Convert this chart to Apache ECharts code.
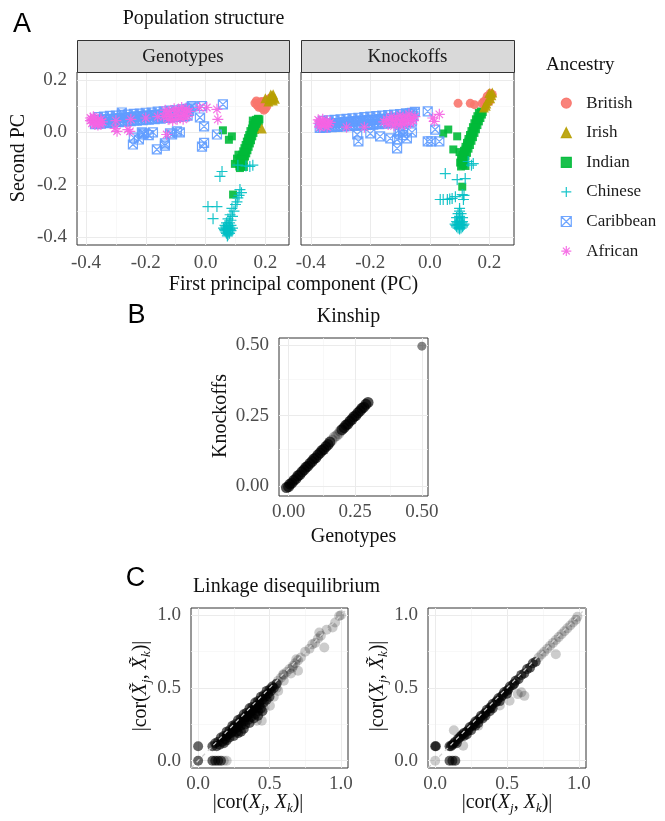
<!DOCTYPE html>
<html><head><meta charset="utf-8">
<script src="https://cdn.jsdelivr.net/npm/echarts@6/dist/echarts.min.js"></script>
<style>html,body{margin:0;padding:0;background:#fff}#c{width:665px;height:821px}</style>
</head><body><div id="c"></div>
<script>
// ---------------- DATA ----------------
const ancestryNames = ['British','Irish','Indian','Chinese','Caribbean','African'];

// Panel A – Genotypes facet (PC1, PC2)
const genoBritish = [[0.165,0.112],[0.172,0.104],[0.178,0.096],[0.185,0.1],[0.19,0.093],[0.182,0.115],[0.195,0.108],[0.2,0.12],[0.205,0.112],[0.21,0.125],[0.215,0.13],[0.205,0.1],[0.195,0.085],[0.188,0.118],[0.17,0.12],[0.2,0.09]];
const genoIrish = [[0.215,0.128],[0.222,0.14],[0.228,0.134],[0.232,0.128],[0.225,0.122],[0.218,0.145],[0.21,0.118],[0.2,0.13],[0.226,0.146],[0.188,0.015]];
const genoIndian = [[0.175,0.052],[0.168,0.048],[0.178,0.042],[0.163,0.038],[0.172,0.032],[0.158,0.028],[0.168,0.022],[0.155,0.015],[0.165,0.01],[0.15,0.005],[0.16,-0.002],[0.146,-0.01],[0.156,-0.015],[0.142,-0.022],[0.152,-0.03],[0.138,-0.035],[0.148,-0.042],[0.134,-0.048],[0.144,-0.055],[0.13,-0.06],[0.14,-0.068],[0.126,-0.072],[0.136,-0.08],[0.122,-0.085],[0.132,-0.092],[0.118,-0.097],[0.128,-0.104],[0.114,-0.108],[0.124,-0.115],[0.112,-0.12],[0.12,-0.128],[0.115,-0.136],[0.128,-0.132],[0.105,-0.1],[0.11,-0.085],[0.158,0.045],
  [0.18,0.05],[0.173,0.045],[0.168,0.035],[0.162,0.02],[0.158,0.008],[0.152,-0.008],[0.148,-0.02],[0.143,-0.035],[0.139,-0.05],[0.135,-0.063],[0.13,-0.078],[0.126,-0.09],[0.121,-0.105],[0.117,-0.118],[0.113,-0.13],
  [0.058,0.008],[0.088,-0.015],[0.078,-0.028],[0.092,-0.237],[0.098,-0.12]];
const genoChinese = [[0.148,-0.13],[0.135,-0.128],[0.158,-0.125],[0.108,-0.125],[0.055,-0.149],[0.048,-0.168],[0.115,-0.218],[0.12,-0.23],[0.112,-0.24],[0.108,-0.25],[0.105,-0.265],[0.1,-0.275],[0.008,-0.283],[0.038,-0.283],[0.025,-0.329],[0.088,-0.29],[0.095,-0.3],[0.082,-0.314],[0.09,-0.32],[0.075,-0.33],[0.085,-0.335],[0.07,-0.345],[0.08,-0.345],[0.065,-0.355],[0.075,-0.355],[0.085,-0.355],[0.06,-0.365],[0.07,-0.365],[0.08,-0.365],[0.09,-0.365],[0.065,-0.375],[0.075,-0.375],[0.085,-0.375],[0.07,-0.385],[0.08,-0.385],[0.073,-0.395],
  [0.063,-0.37],[0.072,-0.37],[0.082,-0.37],[0.068,-0.36],[0.078,-0.36],[0.075,-0.39],[0.068,-0.38],[0.078,-0.38]];
const genoCaribbean = [[-0.37,0.032],[-0.36,0.034],[-0.35,0.033],[-0.34,0.036],[-0.33,0.035],[-0.32,0.038],[-0.31,0.037],[-0.3,0.04],[-0.29,0.039],[-0.28,0.042],[-0.27,0.041],[-0.26,0.044],[-0.25,0.043],[-0.24,0.046],[-0.23,0.045],[-0.22,0.048],[-0.21,0.047],[-0.2,0.05],[-0.19,0.049],[-0.18,0.052],[-0.17,0.051],[-0.16,0.054],[-0.15,0.053],[-0.14,0.056],[-0.13,0.055],[-0.12,0.058],[-0.11,0.057],[-0.1,0.06],[-0.09,0.059],[-0.08,0.062],[-0.07,0.061],[-0.06,0.064],
  [-0.365,0.046],[-0.355,0.047],[-0.345,0.049],[-0.335,0.048],[-0.325,0.051],[-0.315,0.052],[-0.305,0.051],[-0.295,0.054],[-0.285,0.055],[-0.275,0.054],[-0.265,0.057],[-0.255,0.058],[-0.245,0.057],[-0.235,0.06],[-0.225,0.061],[-0.215,0.06],[-0.205,0.063],[-0.195,0.064],[-0.185,0.063],[-0.175,0.066],[-0.165,0.067],[-0.155,0.066],[-0.145,0.069],[-0.135,0.07],[-0.125,0.069],[-0.115,0.072],[-0.105,0.073],[-0.095,0.072],[-0.085,0.075],[-0.075,0.076],[-0.065,0.078],[-0.055,0.082],
  [-0.36,0.058],[-0.34,0.06],[-0.32,0.063],[-0.3,0.064],[-0.28,0.067],[-0.26,0.068],[-0.24,0.071],[-0.22,0.072],[-0.2,0.075],[-0.18,0.076],[-0.16,0.079],[-0.14,0.08],[-0.12,0.083],[-0.1,0.084],[-0.08,0.088],[-0.06,0.09],[-0.05,0.095],
  [0.058,0.107],[-0.012,0.1],[-0.046,0.1],[-0.019,0.057],[-0.005,0.023],[0.038,-0.008],[-0.012,-0.054],[-0.005,-0.04],[-0.086,0.0],[-0.112,-0.008],[-0.136,-0.05],[-0.163,-0.065],[-0.21,-0.008],[-0.176,0.0],[-0.243,-0.046],[-0.213,0.0],[-0.28,0.076],[-0.206,-0.004],[-0.223,-0.027],[-0.119,-0.004],[-0.096,0.004],[-0.136,-0.042],[-0.24,-0.02],[-0.19,-0.01]];
const genoAfrican = [[-0.385,0.045],[-0.38,0.05],[-0.375,0.038],[-0.37,0.055],[-0.365,0.042],[-0.36,0.048],[-0.355,0.036],[-0.35,0.05],[-0.345,0.04],[-0.38,0.035],[-0.37,0.03],[-0.385,0.055],[-0.375,0.06],[-0.36,0.028],[-0.35,0.03],
  [-0.14,0.06],[-0.13,0.07],[-0.125,0.05],[-0.12,0.08],[-0.115,0.06],[-0.11,0.045],[-0.1,0.07],[-0.09,0.085],[-0.085,0.06],[-0.08,0.095],[-0.075,0.05],[-0.07,0.075],[-0.065,0.09],[-0.06,0.06],[-0.055,0.08],[-0.095,0.05],[-0.135,0.085],[-0.105,0.09],[-0.075,0.065],
  [0.004,0.095],[0.038,0.088],[0.041,0.05],[-0.26,0.011],[-0.303,0.015],[-0.13,-0.008],[-0.296,0.004],[-0.253,0.004],[-0.02,0.095],[-0.2,0.055],[-0.25,0.05],[-0.3,0.045],[-0.16,0.06]];

// Panel A – Knockoffs facet
const knockBritish = [[0.095,0.111],[0.136,0.111],[0.15,0.106],[0.176,0.111],[0.182,0.118],[0.188,0.108],[0.193,0.138],[0.198,0.128],[0.203,0.149],[0.205,0.14],[0.19,0.125],[0.2,0.118],[0.21,0.145],[0.185,0.1],[0.195,0.115]];
const knockIrish = [[0.2,0.15],[0.207,0.142],[0.203,0.13],[0.195,0.122],[0.19,0.11],[0.182,0.095],[0.21,0.152],[0.188,0.102]];
const knockIndian = [[0.172,0.08],[0.165,0.075],[0.175,0.068],[0.16,0.062],[0.17,0.055],[0.155,0.05],[0.165,0.042],[0.15,0.035],[0.16,0.028],[0.145,0.02],[0.155,0.012],[0.14,0.005],[0.15,-0.002],[0.135,-0.01],[0.145,-0.018],[0.13,-0.025],[0.14,-0.032],[0.125,-0.04],[0.135,-0.048],[0.12,-0.055],[0.13,-0.062],[0.115,-0.07],[0.125,-0.078],[0.11,-0.085],[0.12,-0.092],[0.105,-0.1],[0.115,-0.108],[0.102,-0.115],[0.112,-0.122],[0.105,-0.13],[0.12,-0.128],
  [0.178,0.078],[0.17,0.07],[0.165,0.058],[0.16,0.045],[0.155,0.032],[0.15,0.018],[0.145,0.005],[0.14,-0.008],[0.135,-0.022],[0.13,-0.035],[0.125,-0.05],[0.12,-0.065],[0.115,-0.08],[0.11,-0.095],[0.107,-0.11],[0.11,-0.125],
  [0.045,-0.004],[0.062,0.011],[0.092,-0.015],[0.079,-0.065],[0.109,-0.207],[0.1,-0.075]];
const knockChinese = [[0.129,-0.111],[0.146,-0.119],[0.14,-0.125],[0.052,-0.157],[0.092,-0.18],[0.119,-0.176],[0.035,-0.256],[0.059,-0.256],[0.075,-0.252],[0.086,-0.245],[0.109,-0.237],[0.113,-0.256],[0.045,-0.256],[0.067,-0.254],[0.115,-0.24],[0.1,-0.29],[0.1,-0.3],[0.095,-0.31],[0.105,-0.31],[0.1,-0.32],[0.09,-0.325],[0.11,-0.325],[0.1,-0.335],[0.09,-0.34],[0.11,-0.34],[0.1,-0.345],[0.085,-0.35],[0.095,-0.352],[0.105,-0.352],[0.115,-0.35],[0.09,-0.36],[0.1,-0.362],[0.11,-0.36],[0.1,-0.368],
  [0.093,-0.345],[0.107,-0.345],[0.088,-0.355],[0.112,-0.355],[0.095,-0.365],[0.105,-0.365],[0.1,-0.355],[0.1,-0.33]];
const knockCaribbean = [[-0.37,0.017],[-0.36,0.019],[-0.35,0.018],[-0.34,0.021],[-0.33,0.02],[-0.32,0.022],[-0.31,0.021],[-0.3,0.024],[-0.29,0.023],[-0.28,0.025],[-0.27,0.024],[-0.26,0.027],[-0.25,0.026],[-0.24,0.028],[-0.23,0.027],[-0.22,0.03],[-0.21,0.029],[-0.2,0.031],[-0.19,0.03],[-0.18,0.033],[-0.17,0.032],[-0.16,0.034],[-0.15,0.033],[-0.14,0.036],[-0.13,0.035],[-0.12,0.037],[-0.11,0.036],[-0.1,0.039],[-0.09,0.038],[-0.08,0.04],[-0.07,0.039],[-0.06,0.041],
  [-0.365,0.031],[-0.355,0.032],[-0.345,0.033],[-0.335,0.033],[-0.325,0.035],[-0.315,0.036],[-0.305,0.036],[-0.295,0.038],[-0.285,0.039],[-0.275,0.039],[-0.265,0.041],[-0.255,0.042],[-0.245,0.042],[-0.235,0.044],[-0.225,0.045],[-0.215,0.045],[-0.205,0.047],[-0.195,0.048],[-0.185,0.048],[-0.175,0.05],[-0.165,0.051],[-0.155,0.051],[-0.145,0.053],[-0.135,0.054],[-0.125,0.054],[-0.115,0.056],[-0.105,0.057],[-0.095,0.057],[-0.085,0.059],[-0.075,0.06],[-0.065,0.061],[-0.055,0.063],
  [-0.36,0.044],[-0.34,0.046],[-0.32,0.048],[-0.3,0.05],[-0.28,0.052],[-0.26,0.054],[-0.24,0.056],[-0.22,0.058],[-0.2,0.06],[-0.18,0.062],[-0.16,0.064],[-0.14,0.066],[-0.12,0.068],[-0.1,0.07],[-0.08,0.073],[-0.06,0.075],[-0.05,0.078],
  [-0.24,-0.034],[-0.244,-0.008],[-0.167,-0.015],[-0.11,-0.061],[-0.11,-0.027],[-0.077,-0.023],[-0.2,-0.004],[-0.133,-0.023],[-0.067,0.073],[-0.007,0.08],[-0.007,-0.034],[0.018,0.011],[0.005,-0.034],[0.032,-0.034],[-0.09,-0.01],[-0.1,0.0],[-0.06,0.0],[-0.09,0.005],[-0.105,0.008]];
const knockAfrican = [[-0.375,0.035],[-0.37,0.042],[-0.365,0.028],[-0.36,0.038],[-0.355,0.025],[-0.35,0.035],[-0.345,0.045],[-0.34,0.03],[-0.335,0.038],[-0.37,0.02],[-0.36,0.05],[-0.375,0.048],[-0.345,0.02],
  [-0.155,0.04],[-0.145,0.05],[-0.14,0.03],[-0.13,0.06],[-0.125,0.045],[-0.115,0.035],[-0.11,0.055],[-0.1,0.065],[-0.095,0.04],[-0.09,0.05],[-0.085,0.03],[-0.08,0.06],[-0.075,0.045],[-0.07,0.07],[-0.065,0.035],[-0.06,0.055],[-0.055,0.045],[-0.05,0.06],[-0.12,0.025],[-0.1,0.028],
  [0.032,0.069],[0.015,0.042],[0.01,0.055],[-0.28,0.02],[-0.22,0.02]];

// Panel B – kinship (genotypes, knockoffs)
const kinshipDense = [[-0.008,-0.006],[0.0,-0.003],[0.005,0.006],[0.012,0.01],[0.02,0.02],[0.028,0.026],[0.035,0.036],[0.042,0.04],[0.05,0.05],[0.058,0.057],[0.065,0.066],[0.072,0.07],[0.08,0.08],[0.088,0.087],[0.095,0.096],[0.102,0.1],[0.11,0.11],[0.118,0.117],[0.125,0.126],[0.132,0.13],[0.14,0.14],[0.148,0.147],[0.155,0.156],[0.2,0.2],[0.208,0.207],[0.215,0.216],[0.222,0.22],[0.23,0.23],[0.238,0.237],[0.245,0.246],[0.252,0.25],[0.26,0.26],[0.268,0.267],[0.275,0.276],[0.282,0.28],[0.29,0.29],[0.298,0.297]];
const kinshipSparse = [[0.163,0.163],[0.172,0.174],[0.18,0.179],[0.188,0.186],[0.194,0.195]];
const kinshipOutlier = [[0.5,0.497]];

// Panel C – LD: |cor(Xj,Xk)| vs |cor(X~j,X~k)| and |cor(Xj,X~k)|
const ldKnockKnockDense = [[0,0.1],[0,0],[0.1,0],[0.12,0],[0.14,0],[0.16,0],
  [0.1,0.1],[0.12,0.12],[0.14,0.13],[0.16,0.16],[0.18,0.17],[0.2,0.2],[0.22,0.21],[0.24,0.24],[0.26,0.25],[0.28,0.28],[0.3,0.29],[0.32,0.32],[0.34,0.33],[0.36,0.36],[0.38,0.37],[0.4,0.4],[0.42,0.41],[0.44,0.44],[0.46,0.45],[0.48,0.48],[0.5,0.49],[0.52,0.51],
  [0.15,0.11],[0.18,0.12],[0.2,0.14],[0.22,0.16],[0.25,0.17],[0.27,0.2],[0.3,0.2],[0.3,0.24],[0.33,0.25],[0.35,0.28],[0.37,0.3],[0.4,0.32],[0.42,0.34],[0.44,0.36],[0.46,0.4],[0.5,0.44],[0.24,0.2],[0.28,0.23],[0.34,0.3],[0.38,0.34],[0.43,0.38],[0.2,0.17],[0.26,0.22],[0.32,0.27],[0.36,0.32],[0.41,0.36],[0.48,0.42],
  [0.13,0.1],[0.17,0.13],[0.19,0.15],[0.21,0.18],[0.23,0.19],[0.25,0.23],[0.27,0.24],[0.29,0.26],[0.31,0.28],[0.33,0.3],[0.35,0.32],[0.37,0.34],[0.39,0.36],[0.41,0.38],[0.43,0.4],[0.45,0.42],[0.47,0.44],[0.49,0.46],[0.51,0.48],[0.28,0.19],[0.32,0.22],[0.36,0.26],[0.39,0.29],[0.42,0.31],[0.45,0.34],[0.53,0.5],[0.55,0.53]];
const ldKnockKnockSparse = [[0.18,0.0],[0.2,0.0],[0.54,0.52],[0.56,0.55],[0.58,0.57],[0.6,0.59],[0.62,0.61],[0.64,0.63],[0.66,0.64],[0.68,0.67],[0.7,0.69],[0.7,0.618],[0.665,0.652],[0.688,0.698],[0.596,0.595],[0.561,0.48],[0.503,0.378],[0.446,0.275],[0.411,0.275],[0.46,0.36],[0.53,0.44],[0.72,0.71],[0.75,0.75],[0.78,0.77],[0.8,0.8],[0.82,0.81],[0.84,0.84],[0.849,0.881],[0.86,0.86],[0.884,0.778],[0.9,0.9],[0.942,0.916],[0.96,0.95],[0.988,0.995],[1.0,1.0],[0.6,0.55],[0.65,0.6],[0.55,0.5]];
const ldGenoKnockDense = [[0,0.1],[0.005,0.1],[0.1,0],[0.12,0],[0.14,0],
  [0.1,0.1],[0.12,0.11],[0.14,0.13],[0.16,0.15],[0.18,0.17],[0.2,0.19],[0.22,0.2],[0.24,0.23],[0.26,0.24],[0.28,0.27],[0.3,0.28],[0.32,0.31],[0.34,0.32],[0.36,0.35],[0.38,0.36],[0.4,0.39],[0.42,0.4],[0.44,0.43],[0.46,0.44],[0.48,0.47],[0.5,0.48],[0.52,0.51],[0.54,0.52],[0.56,0.55],[0.58,0.56],[0.6,0.59],[0.62,0.6],[0.64,0.63],[0.66,0.64],[0.68,0.67],[0.7,0.68],
  [0.15,0.12],[0.2,0.17],[0.25,0.21],[0.3,0.26],[0.35,0.31],[0.4,0.36],[0.45,0.41],[0.5,0.46],[0.22,0.18],[0.28,0.24],[0.33,0.29],[0.38,0.34],
  [0.11,0.1],[0.13,0.12],[0.17,0.16],[0.19,0.18],[0.23,0.21],[0.27,0.25],[0.31,0.29],[0.35,0.33],[0.39,0.37],[0.43,0.41],[0.47,0.45],[0.51,0.49],[0.55,0.53]];
const ldGenoKnockSparse = [[0,0],[0.13,0.21],[0.195,0.103],[0.84,0.732],[0.575,0.458],[0.621,0.446],[0.518,0.412],[0.6,0.47],[0.72,0.71],[0.74,0.73],[0.76,0.75],[0.78,0.77],[0.8,0.79],[0.82,0.81],[0.84,0.83],[0.86,0.85],[0.88,0.87],[0.9,0.89],[0.92,0.91],[0.94,0.93],[0.96,0.95],[0.98,0.97],[0.99,0.99],[0.3,0.24],[0.45,0.38]];
const identityLine = [[-0.05,-0.05],[1.05,1.05]];

// Tick values
const pcTicksX = [-0.4,-0.2,0.0,0.2];
const pcMinorX = [-0.3,-0.1,0.1];
const pcTicksY = [-0.4,-0.2,0.0,0.2];
const pcMinorY = [-0.3,-0.1,0.1];
const kinTicks = [0,0.25,0.5];
const kinMinor = [0.125,0.375];
const ldTicks = [0,0.5,1];
const ldMinor = [0.25,0.75];

// ---------------- STYLE / LAYOUT ----------------
const SERIF = "'Liberation Serif', 'DejaVu Serif', serif";
const SANS = "'Liberation Sans', Arial, sans-serif";
const TICKCOL = '#4D4D4D';
const ancColors = {British:'#F8766D',Irish:'#B79F00',Indian:'#00BA38',Chinese:'#00BFC4',Caribbean:'#619CFF',African:'#F564E3'};
const PLUS = 'path://M5,0L5,10M0,5L10,5';
const SQX = 'path://M0,0L10,0L10,10L0,10ZM0,0L10,10M10,0L0,10';
const AST = 'path://M5,0L5,10M0,5L10,5M1.6,1.6L8.4,8.4M8.4,1.6L1.6,8.4';
const ancSym = {British:['circle',9,false],Irish:['triangle',10,false],Indian:['rect',8,false],Chinese:[PLUS,11,true],Caribbean:[SQX,9,true],African:[AST,11,true]};

const grids = [
  {left:77, top:72, width:212, height:173},
  {left:301, top:72, width:213, height:173},
  {left:279, top:338, width:149, height:158},
  {left:191, top:608, width:157, height:160},
  {left:428, top:608, width:158, height:160}
].map(g => Object.assign({show:true, backgroundColor:'#fff', borderColor:'#333', borderWidth:1, containLabel:false}, g));

function mkAxis(dim, gi, min, max, ticks, showLabel, dec, margin) {
  return {
    type:'value', gridIndex:gi, min, max,
    position: dim==='x' ? 'bottom' : 'left',
    axisLine:{show:false},
    axisTick:{show:true, length:4, lineStyle:{color:'#333', width:1}, customValues: ticks},
    axisLabel:{show:showLabel, customValues: ticks, formatter: v => Number(v).toFixed(dec),
      color:TICKCOL, fontFamily:SERIF, fontSize:19, margin},
    splitLine:{show:false}, minorSplitLine:{show:false}
  };
}
const xAxes = [
  mkAxis('x',0,-0.430,0.279,pcTicksX,true,1,9),
  mkAxis('x',1,-0.433,0.283,pcTicksX,true,1,9),
  mkAxis('x',2,-0.036,0.523,kinTicks,true,2,7),
  mkAxis('x',3,-0.05,1.05,ldTicks,true,1,7),
  mkAxis('x',4,-0.05,1.05,ldTicks,true,1,7)
];
const yAxes = [
  mkAxis('y',0,-0.4295,0.2305,pcTicksY,true,1,10),
  Object.assign(mkAxis('y',1,-0.4295,0.2305,pcTicksY,false,1,10),{axisTick:{show:false}}),
  mkAxis('y',2,-0.036,0.526,kinTicks,true,2,10),
  mkAxis('y',3,-0.05,1.05,ldTicks,true,1,10),
  mkAxis('y',4,-0.05,1.05,ldTicks,true,1,10)
];

function gridLines(gi, majX, minX, majY, minY) {
  const maj = {color:'#EBEBEB', width:1, type:'solid'};
  const mnr = {color:'#F5F5F5', width:0.7, type:'solid'};
  const d = [];
  minX.forEach(v => d.push({xAxis:v, lineStyle:mnr}));
  minY.forEach(v => d.push({yAxis:v, lineStyle:mnr}));
  majX.forEach(v => d.push({xAxis:v, lineStyle:maj}));
  majY.forEach(v => d.push({yAxis:v, lineStyle:maj}));
  return {type:'scatter', name:'_grid'+gi, xAxisIndex:gi, yAxisIndex:gi, data:[], silent:true, z:1,
    markLine:{silent:true, z:1, symbol:['none','none'], label:{show:false}, animation:false, data:d}};
}

const series = [];
[0,1].forEach(gi => series.push(gridLines(gi, pcTicksX, pcMinorX, pcTicksY, pcMinorY)));
series.push(gridLines(2, kinTicks, kinMinor, kinTicks, kinMinor));
series.push(gridLines(3, ldTicks, ldMinor, ldTicks, ldMinor));
series.push(gridLines(4, ldTicks, ldMinor, ldTicks, ldMinor));

const facetData = [
  {Indian:genoIndian, Chinese:genoChinese, Caribbean:genoCaribbean, African:genoAfrican, British:genoBritish, Irish:genoIrish},
  {Indian:knockIndian, Chinese:knockChinese, Caribbean:knockCaribbean, African:knockAfrican, British:knockBritish, Irish:knockIrish}
];
const drawOrder = ['Indian','Chinese','Caribbean','African','British','Irish'];
facetData.forEach((fd, gi) => {
  drawOrder.forEach(name => {
    const [sym, size, stroke] = ancSym[name];
    const c = ancColors[name];
    series.push({
      type:'scatter', name, xAxisIndex:gi, yAxisIndex:gi, data: fd[name],
      symbol: sym, symbolSize: size, z:2, silent:true,
      itemStyle: stroke ? {color:'rgba(0,0,0,0)', borderColor:c, borderWidth:1.2, opacity:0.9}
                        : {color:c, borderColor:c, borderWidth:0, opacity:0.9}
    });
  });
});

function blackSeries(name, gi, data, alpha, size) {
  return {type:'scatter', name, xAxisIndex:gi, yAxisIndex:gi, data, symbol:'circle', symbolSize:size, z:2, silent:true,
    itemStyle:{color:'rgba(0,0,0,'+alpha+')'}};
}
series.push(blackSeries('kinDense',2,kinshipDense,0.85,11));
series.push(blackSeries('kinSparse',2,kinshipSparse,0.3,11));
series.push(blackSeries('kinOut',2,kinshipOutlier,0.6,9));
series.push(blackSeries('ld1Sparse',3,ldKnockKnockSparse,0.25,10));
series.push(blackSeries('ld1Dense',3,ldKnockKnockDense,0.75,10));
series.push(blackSeries('ld2Sparse',4,ldGenoKnockSparse,0.25,10));
series.push(blackSeries('ld2Dense',4,ldGenoKnockDense,0.75,10));
[3,4].forEach(gi => series.push({type:'scatter', name:'_abline'+gi, xAxisIndex:gi, yAxisIndex:gi, data:[], silent:true, z:10,
  markLine:{silent:true, z:10, symbol:['none','none'], label:{show:false}, animation:false,
    lineStyle:{color:'#D0D0D0', width:1.2, type:[4,4]},
    data:[[{coord:identityLine[0]},{coord:identityLine[1]}]]}}));

// ---------------- TEXT ----------------
function T(text, x, y, size, o) {
  o = o || {};
  return {type:'text', x, y, rotation:o.rot||0, z:100, silent:true,
    style:{text, fontFamily:o.font||SERIF, fontSize:size, fill:o.color||'#111', align:o.align||'center', verticalAlign:'middle', rich:o.rich}};
}
const corRich = {
  r:{fontFamily:SERIF, fontSize:20, lineHeight:24, fill:'#111'},
  i:{fontFamily:SERIF, fontSize:20, lineHeight:24, fontStyle:'italic', fill:'#111'},
  s:{fontFamily:SERIF, fontSize:13, lineHeight:13, fontStyle:'italic', verticalAlign:'bottom', fill:'#111'}
};
const labXX = '{r||cor(}{i|X}{s|j}{r|, }{i|X}{s|k}{r|)|}';
const labTT = '{r||cor(}{i|X\u0303}{s|j}{r|, }{i|X\u0303}{s|k}{r|)|}';
const labXT = '{r||cor(}{i|X}{s|j}{r|, }{i|X\u0303}{s|k}{r|)|}';

const graphic = [
  {type:'rect', z:50, shape:{x:77.5,y:40.5,width:212,height:32}, style:{fill:'#D9D9D9', stroke:'#333', lineWidth:1}},
  {type:'rect', z:50, shape:{x:301.5,y:40.5,width:213,height:32}, style:{fill:'#D9D9D9', stroke:'#333', lineWidth:1}},
  T('Genotypes', 183, 57, 19, {color:'#1a1a1a'}),
  T('Knockoffs', 407.5, 57, 19, {color:'#1a1a1a'}),
  T('A', 22, 25, 27, {font:SANS, color:'#000'}),
  T('B', 136.5, 316, 27, {font:SANS, color:'#000'}),
  T('C', 135.5, 579, 27, {font:SANS, color:'#000'}),
  T('Population structure', 203.5, 18.5, 20),
  T('Second PC', 18.5, 158, 20, {rot:Math.PI/2}),
  T('First principal component (PC)', 293.5, 285, 20),
  T('Ancestry', 546, 65.3, 19, {align:'left'}),
  T('Kinship', 348.5, 317, 20),
  T('Genotypes', 353.5, 537, 20),
  T('Knockoffs', 220.5, 416, 20, {rot:Math.PI/2}),
  T('Linkage disequilibrium', 286.5, 586.5, 20),
  T(labXX, 258, 803, 20, {rich:corRich}),
  T(labXX, 507, 803, 20, {rich:corRich}),
  T(labTT, 141, 686, 20, {rich:corRich, rot:Math.PI/2}),
  T(labXT, 378, 686, 20, {rich:corRich, rot:Math.PI/2})
];

const chart = echarts.init(document.getElementById('c'), null, {renderer:'canvas'});
chart.setOption({
  animation:false,
  backgroundColor:'#fff',
  grid: grids, xAxis: xAxes, yAxis: yAxes, series,
  legend:{data:ancestryNames, orient:'vertical', left:555.7, top:89.6, itemWidth:10, itemHeight:10, itemGap:12.6,
    selectedMode:false,
    itemStyle:{borderWidth:1.2},
    formatter: n => '{sp|}{t|' + n + '}',
    textStyle:{fontFamily:SERIF, fontSize:17, color:'#1a1a1a',
      rich:{sp:{width:10}, t:{fontFamily:SERIF, fontSize:17, color:'#1a1a1a'}}}},
  graphic
});
</script></body></html>
